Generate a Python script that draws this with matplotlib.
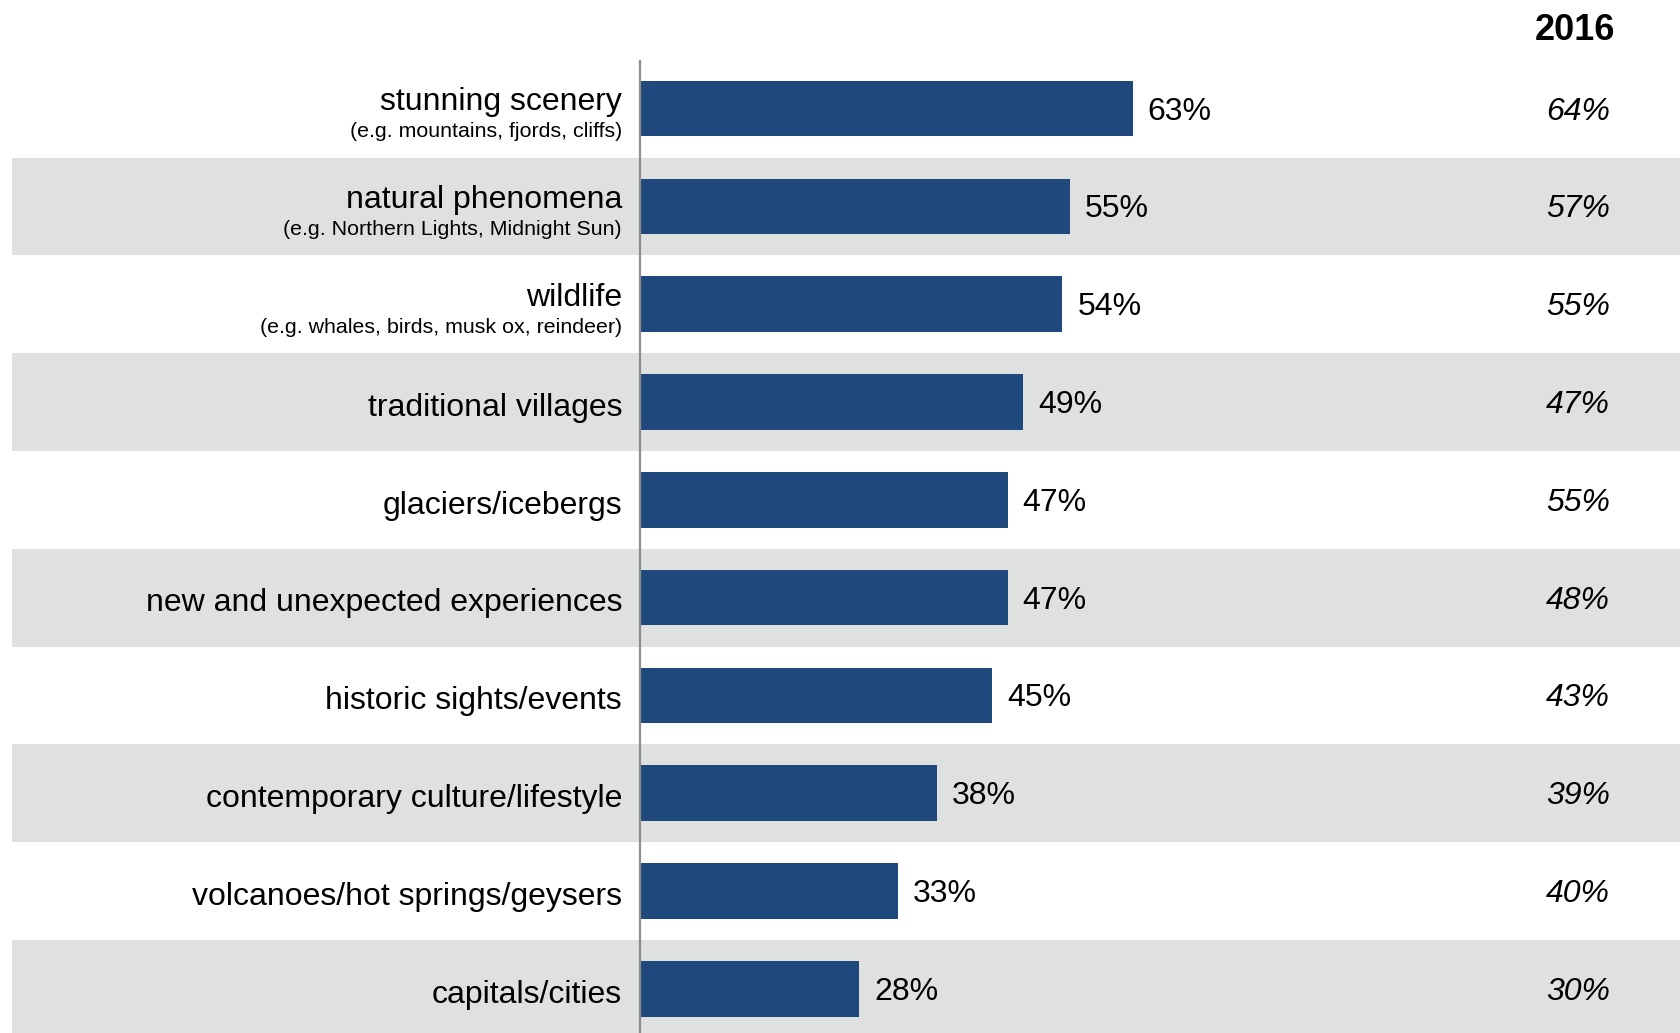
import matplotlib
matplotlib.use("Agg")
import matplotlib.pyplot as plt

plt.rcParams['font.family'] = ['Liberation Sans', 'DejaVu Sans']

categories = ["stunning scenery", "natural phenomena", "wildlife", "traditional villages",
              "glaciers/icebergs", "new and unexpected experiences", "historic sights/events",
              "contemporary culture/lifestyle", "volcanoes/hot springs/geysers", "capitals/cities"]
subtitles = ["(e.g. mountains, fjords, cliffs)", "(e.g. Northern Lights, Midnight Sun)",
             "(e.g. whales, birds, musk ox, reindeer)", "", "", "", "", "", "", ""]
values_current = [63, 55, 54, 49, 47, 47, 45, 38, 33, 28]
values_2016 = [64, 57, 55, 47, 55, 48, 43, 39, 40, 30]
column_header = "2016"

W, H = 1680, 1033
fig = plt.figure(figsize=(W / 100, H / 100), dpi=100)

# axes geometry (pixels)
left_px = 12
zero_px = 640
px_per_pct = 7.82
row_top_px = 59.7
row_h_px = 97.8
n = len(categories)

ax_bottom = (H - (row_top_px + n * row_h_px)) / H
ax_height = n * row_h_px / H
ax = fig.add_axes([left_px / W, ax_bottom, (W - left_px) / W, ax_height])
ax.set_xlim(-(zero_px - left_px) / px_per_pct, (W - zero_px) / px_per_pct)
ax.set_ylim(n - 0.5, -0.5)
ax.axis('off')

bar_color = '#1F497D'
band_color = '#DFE0E0'

for i in range(n):
    if i % 2 == 1:
        ax.axhspan(i - 0.5, i + 0.5, xmin=0, xmax=1, color=band_color, lw=0, zorder=0)

ys = list(range(n))
ax.barh(ys, values_current, height=0.57, color=bar_color, zorder=2)
ax.axvline(0, color='#8C8C8C', lw=1.6, zorder=3)

lab_x = -18 / px_per_pct
gap = 15 / px_per_pct
col_x = (1610 - zero_px) / px_per_pct
for i, (cat, sub, v, v16) in enumerate(zip(categories, subtitles, values_current, values_2016)):
    if sub:
        ax.text(lab_x, i - 0.065, cat, ha='right', va='center', fontsize=23, color='black')
        ax.text(lab_x, i + 0.235, sub, ha='right', va='center', fontsize=15.4, color='black')
    else:
        ax.text(lab_x, i + 0.06, cat, ha='right', va='center', fontsize=23, color='black')
    ax.text(v + gap, i + 0.03, f"{v}%", ha='left', va='center', fontsize=23, color='black')
    ax.text(col_x, i + 0.03, f"{v16}%", ha='right', va='center', fontsize=23,
            style='italic', color='black')

fig.text(1615 / W, 1 - 30 / H, column_header, ha='right', va='center', fontsize=26,
         fontweight='bold', color='black')

fig.savefig("out.png", dpi=100)
